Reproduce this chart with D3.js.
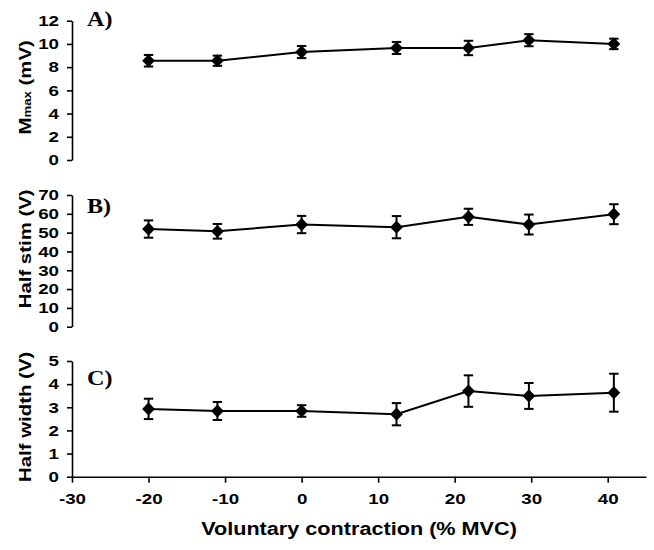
<!DOCTYPE html>
<html>
<head>
<meta charset="utf-8">
<script src="https://cdn.jsdelivr.net/npm/d3@7"></script>
<style>
  html, body { margin: 0; padding: 0; background: #fff; }
  svg { display: block; }
</style>
</head>
<body>
<svg id="chart" width="654" height="550"></svg>
<script>
// ---- data ----
const xVals = [-20, -11, 0, 12.4, 21.8, 29.7, 40.8];
const mmax = [8.55, 8.55, 9.3, 9.65, 9.65, 10.32, 10.0];
const mmaxErr = [0.5, 0.44, 0.52, 0.52, 0.62, 0.52, 0.45];
const halfStim = [51.9, 50.7, 54.3, 52.9, 58.4, 54.3, 59.8];
const halfStimErr = [4.6, 3.9, 4.6, 5.9, 4.3, 5.3, 5.3];
const halfWidth = [2.93, 2.84, 2.84, 2.70, 3.70, 3.49, 3.63];
const halfWidthErr = [0.44, 0.39, 0.25, 0.48, 0.68, 0.56, 0.82];
const xTicks = [-30, -20, -10, 0, 10, 20, 30, 40];
const mmaxTicks = [0, 2, 4, 6, 8, 10, 12];
const halfStimTicks = [0, 10, 20, 30, 40, 50, 60, 70];
const halfWidthTicks = [0, 1, 2, 3, 4, 5];
const panelLabels = ["A)", "B)", "C)"];
const xTitle = "Voluntary contraction (% MVC)";

const svg = d3.select("#chart");
const SANS = "'Liberation Sans', Arial, Helvetica, sans-serif";
const SERIF = "'Liberation Serif', 'Times New Roman', serif";
const SX = 1.2; // horizontal stretch of the original lettering
const fmt = d => String(d); // plain hyphen-minus like the original

const x = d3.scaleLinear().domain([-30, 45]).range([72, 646]);

const panels = [
  { vals: mmax, errs: mmaxErr, ticks: mmaxTicks, domain: [0, 12], range: [160, 20.7], label: panelLabels[0], titleCenter: -3, labelDy: 5.5 },
  { vals: halfStim, errs: halfStimErr, ticks: halfStimTicks, domain: [0, 70], range: [326.7, 195], label: panelLabels[1], titleCenter: -12, labelDy: 18 },
  { vals: halfWidth, errs: halfWidthErr, ticks: halfWidthTicks, domain: [0, 5], range: [476.7, 361], label: panelLabels[2], titleCenter: -2, labelDy: 24 }
];

function styleAxis(g) {
  g.selectAll("path.domain").attr("stroke", "#000").attr("stroke-width", 1.6);
  g.selectAll(".tick line").attr("stroke", "#000").attr("stroke-width", 1.6);
  g.selectAll(".tick text")
    .attr("fill", "#000")
    .style("font-family", SANS)
    .style("font-weight", "bold")
    .style("font-size", "15px");
}

panels.forEach((p, i) => {
  const y = d3.scaleLinear().domain(p.domain).range(p.range);
  p.y = y;
  const gy = svg.append("g").attr("transform", `translate(${x(-30)},0)`)
    .call(d3.axisLeft(y).tickValues(p.ticks).tickSize(5).tickSizeOuter(0).tickPadding(8).tickFormat(fmt));
  styleAxis(gy);
  gy.selectAll(".tick text").each(function() {
    const t = d3.select(this);
    const xx = +t.attr("x");
    t.attr("x", xx / 1.25).attr("transform", "scale(1.25,1)");
  });

  const pts = xVals.map((xv, k) => ({ x: xv, v: p.vals[k], e: p.errs[k] }));

  // error bars
  const eb = svg.append("g").attr("stroke", "#000").attr("stroke-width", 2);
  pts.forEach(d => {
    const cx = x(d.x), yt = y(d.v + d.e), yb = y(d.v - d.e);
    eb.append("line").attr("x1", cx).attr("x2", cx).attr("y1", yt).attr("y2", yb);
    eb.append("line").attr("x1", cx - 4.7).attr("x2", cx + 4.7).attr("y1", yt).attr("y2", yt);
    eb.append("line").attr("x1", cx - 4.7).attr("x2", cx + 4.7).attr("y1", yb).attr("y2", yb);
  });

  // connecting line
  svg.append("path").datum(pts)
    .attr("fill", "none").attr("stroke", "#000").attr("stroke-width", 2)
    .attr("d", d3.line().x(d => x(d.x)).y(d => y(d.v)));

  // diamond markers
  svg.append("g").selectAll("path").data(pts).join("path")
    .attr("transform", d => `translate(${x(d.x)},${y(d.v)})`)
    .attr("d", "M0,-6.6L6.4,0L0,6.6L-6.4,0Z")
    .attr("fill", "#000");

  // panel label
  svg.append("text")
    .attr("transform", `translate(${x(-30) + 15},${y(p.domain[1]) + p.labelDy}) scale(1.15,1)`)
    .style("font-family", SERIF).style("font-weight", "bold").style("font-size", "21px")
    .attr("fill", "#000")
    .text(p.label);
});

// y titles
function yTitle(cy, parts) {
  const t = svg.append("text")
    .attr("transform", `translate(31,${cy}) rotate(-90) scale(${SX},1)`)
    .attr("text-anchor", "middle")
    .style("font-family", SANS).style("font-weight", "bold").style("font-size", "17px")
    .attr("fill", "#000");
  parts.forEach(pt => {
    t.append("tspan").style("font-size", pt.size + "px").text(pt.text);
  });
}
const mid = p => (p.range[0] + p.range[1]) / 2 + p.titleCenter;
yTitle(mid(panels[0]), [{ text: "M", size: 17 }, { text: "max", size: 11 }, { text: " (mV)", size: 17 }]);
yTitle(mid(panels[1]), [{ text: "Half stim (V)", size: 17 }]);
yTitle(mid(panels[2]), [{ text: "Half width (V)", size: 17 }]);

// x axis (bottom panel only)
const yC = panels[2].y;
const gx = svg.append("g").attr("transform", `translate(0,${yC(0)})`)
  .call(d3.axisBottom(x).tickValues(xTicks).tickSize(6).tickSizeOuter(0).tickPadding(11).tickFormat(fmt));
styleAxis(gx);
gx.selectAll(".tick text").attr("transform", "scale(1.25,1)");

svg.append("text")
  .attr("transform", `translate(${(x(-30) + x(45)) / 2},535) scale(1.17,1)`)
  .attr("text-anchor", "middle")
  .style("font-family", SANS).style("font-weight", "bold").style("font-size", "18.5px")
  .attr("fill", "#000")
  .text(xTitle);
</script>
</body>
</html>
